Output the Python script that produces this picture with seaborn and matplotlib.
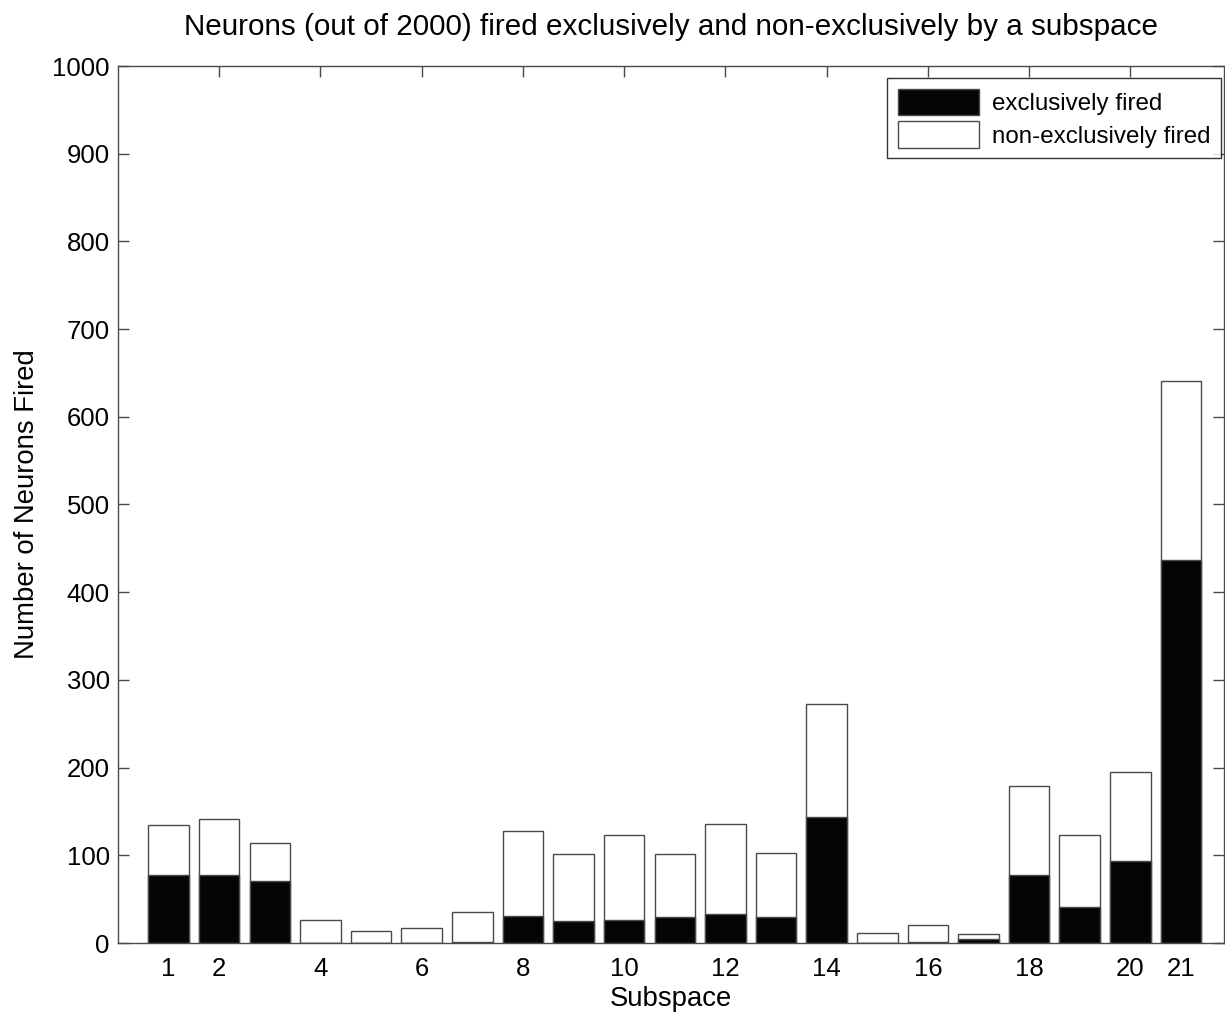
import matplotlib
matplotlib.use("Agg")
import matplotlib.pyplot as plt
from matplotlib.patches import Patch
import seaborn as sns
import pandas as pd
import numpy as np

subspaces = list(range(1, 22))
exclusive = [78, 77, 71, 0, 0, 0, 1, 31, 25, 26, 30, 33, 30, 144, 0, 1, 5, 78, 41, 94, 437]
non_exclusive = [57, 64, 43, 26, 14, 17, 34, 97, 76, 97, 72, 103, 73, 128, 11, 20, 5, 101, 82, 101, 204]
xtick_values = [1, 2, 4, 6, 8, 10, 12, 14, 16, 18, 20, 21]
xtick_labels = [str(v) for v in xtick_values]
top_ticks = [2, 4, 6, 8, 10, 12, 14, 16, 18, 20]

sns.set_style("white")
plt.rcParams['font.family'] = ['Liberation Sans', 'DejaVu Sans']
plt.rcParams['text.color'] = 'black'
plt.rcParams['axes.labelcolor'] = 'black'

df = pd.DataFrame({
    "subspace": subspaces,
    "exclusive": exclusive,
    "non_exclusive": non_exclusive,
})
df["total"] = df["exclusive"] + df["non_exclusive"]

fig = plt.figure(figsize=(12.25, 10.13), dpi=100)
ax = fig.add_axes([118/1225, 1-943/1013, (1224-118)/1225, (943-66)/1013])

edge = "#4a4a4a"
sns.barplot(data=df, x="subspace", y="total", native_scale=True, width=0.8,
            color="white", edgecolor=edge, linewidth=1.0, saturation=1, ax=ax, errorbar=None)
sns.barplot(data=df, x="subspace", y="exclusive", native_scale=True, width=0.8,
            color="#050505", edgecolor=edge, linewidth=1.0, saturation=1, ax=ax, errorbar=None)

ax.set_xlim(0, 21.85)
ax.set_ylim(0, 1000)
ax.set_yticks(np.arange(0, 1001, 100))
ax.set_xticks(xtick_values)
ax.set_xticklabels(xtick_labels)
ax.tick_params(axis="both", labelsize=18.5, colors="black")
ax.tick_params(axis="y", direction="in", length=8, width=1, color=edge, right=True, left=True, pad=6)
ax.tick_params(axis="x", direction="in", length=0, pad=10)

sec = ax.secondary_xaxis("top")
sec.set_xticks(top_ticks)
sec.tick_params(direction="in", length=8, width=1, color=edge, labeltop=False)
sec.spines["top"].set_visible(False)

for s in ax.spines.values():
    s.set_color(edge)
    s.set_linewidth(1.0)
    s.set_visible(True)

ax.set_xlabel("Subspace", fontsize=19.8, labelpad=4, color="black")
ax.set_ylabel("Number of Neurons Fired", fontsize=19.8, labelpad=9, color="black")
ax.set_title("Neurons (out of 2000) fired exclusively and non-exclusively by a subspace",
             fontsize=21.3, pad=22, color="black")

handles = [Patch(facecolor="#050505", edgecolor=edge, label="exclusively fired"),
           Patch(facecolor="white", edgecolor=edge, label="non-exclusively fired")]
leg = ax.legend(handles=handles, loc="upper right", bbox_to_anchor=(1221/1224*1.0 + 0.0, 1 - 12/877),
                bbox_transform=ax.transAxes, borderaxespad=0,
                fontsize=17.4, frameon=True, fancybox=False,
                handlelength=3.35, handleheight=1.3, handletextpad=0.55,
                labelspacing=0.25, borderpad=0.45)
leg.get_frame().set_edgecolor("black")
leg.get_frame().set_linewidth(1.0)
for t in leg.get_texts():
    t.set_color("black")

fig.savefig("out.png", dpi=100, facecolor="white")
